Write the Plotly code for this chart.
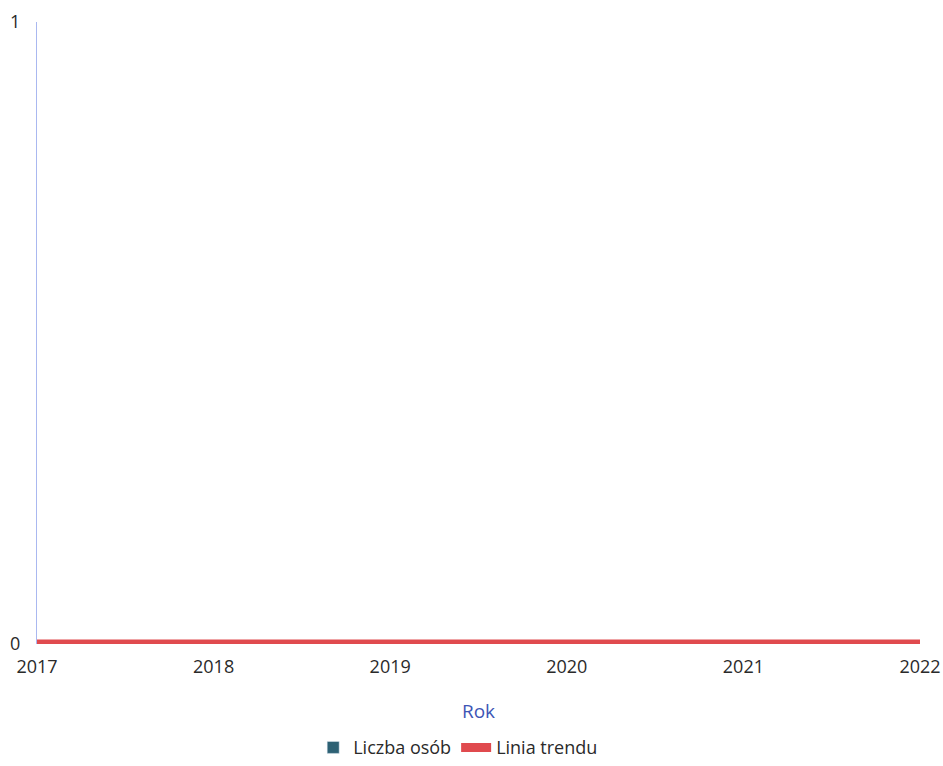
import plotly.graph_objects as go

years = [2017, 2018, 2019, 2020, 2021, 2022]
liczba_osob = [0, 0, 0, 0, 0, 0]
linia_trendu = [0, 0, 0, 0, 0, 0]

fig = go.Figure()
fig.add_trace(go.Bar(x=years, y=liczba_osob, name="Liczba osób",
                     marker_color="#2d6174"))
fig.add_trace(go.Scatter(x=years, y=linia_trendu, name="Linia trendu",
                         mode="lines", line=dict(color="#e04a4e", width=9)))

fig.update_layout(
    width=943, height=766,
    margin=dict(l=37, r=23, t=22, b=122, autoexpand=False),
    paper_bgcolor="white", plot_bgcolor="white",
    font=dict(family="Open Sans", size=18, color="#2a2a2a"),
    showlegend=True,
    legend=dict(orientation="h", x=0.477, xanchor="center", y=-0.137, yanchor="top",
                font=dict(size=18, color="#2a2a2a"), itemwidth=30),
    xaxis=dict(range=[2017, 2022], tickvals=years, showgrid=False, zeroline=False,
               showline=False, ticks="", ticklabelstandoff=10, automargin=False,
               title=dict(text="Rok", font=dict(size=19, color="#3d55b5"), standoff=27)),
    yaxis=dict(range=[0, 1], tickvals=[0, 1], showgrid=False, zeroline=False,
               showline=True, linecolor="#aab8f0", linewidth=1, ticks="",
               ticklabelstandoff=12, automargin=False),
)

fig.write_html("out.html", config={"displayModeBar": False},
               post_script="document.body.style.margin='0px';document.body.style.overflow='hidden';")
